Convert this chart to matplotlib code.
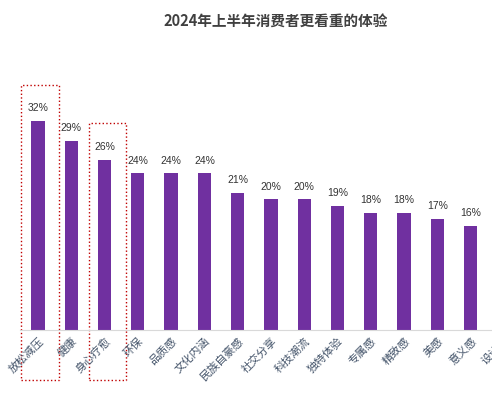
import matplotlib.pyplot as plt
from matplotlib.patches import Rectangle

plt.rcParams['font.family'] = ['Noto Sans CJK SC', 'DejaVu Sans']

categories = ['放松减压', '健康', '身心疗愈', '环保', '品质感', '文化内涵', '民族自豪感',
              '社交分享', '科技潮流', '独特体验', '专属感', '精致感', '美感', '意义感', '设计感']
values = [32, 29, 26, 24, 24, 24, 21, 20, 20, 19, 18, 18, 17, 16, 15]

fig = plt.figure(figsize=(4.92, 4.0), dpi=100)
ax = fig.add_axes([0.04, 0.175, 1.018, 0.5875])
x = range(len(categories))
ax.bar(x, values, width=0.4, color='#7030a0')
for i, v in zip(x, values):
    ax.text(i, v + 1.2, f'{v}%', ha='center', va='bottom', fontsize=7.5,
            color='#333333', family=['Liberation Sans', 'DejaVu Sans'])

ax.set_xlim(-0.55, 14.5)
ax.set_ylim(0, 36)
ax.set_xticks(list(x))
ax.set_xticklabels(categories, rotation=45, ha='right', rotation_mode='anchor',
                   fontsize=8, color='#44546a')
ax.tick_params(axis='x', length=0, pad=4)
ax.set_yticks([])
for s in ['top', 'right', 'left']:
    ax.spines[s].set_visible(False)
ax.spines['bottom'].set_color('#d9d9d9')

# highlight boxes
for x0, x1, top in [(-0.5, 0.63, 37.5), (1.53, 2.64, 31.7)]:
    ax.add_patch(Rectangle((x0, -7.7), x1 - x0, top + 7.7, fill=False, ec='#c00000',
                           ls=':', lw=1, clip_on=False))

fig.text(0.56, 0.945, '2024年上半年消费者更看重的体验', ha='center', va='center',
         fontsize=10.5, fontweight='bold', color='#404040')
fig.savefig('out.png', dpi=100)
